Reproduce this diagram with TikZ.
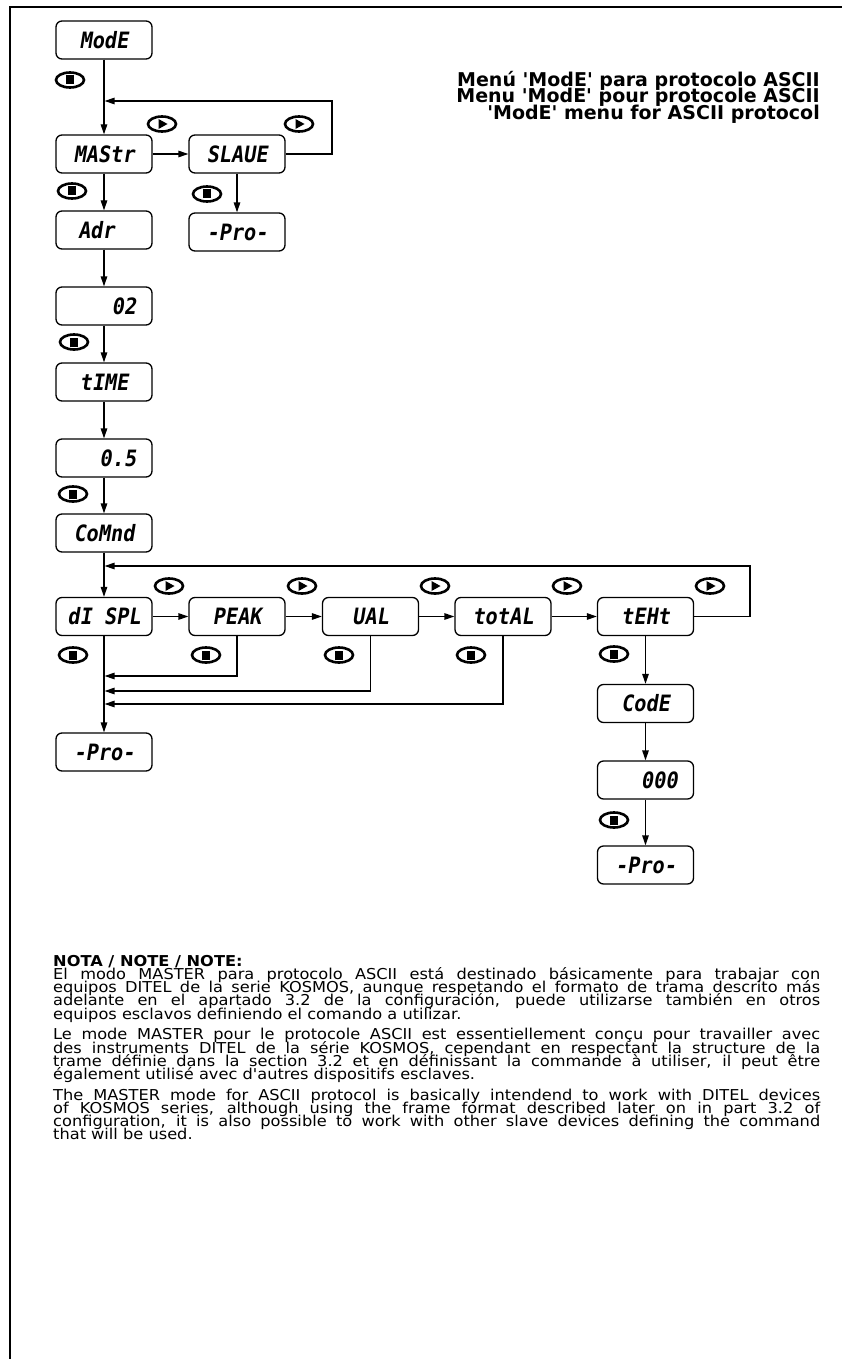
\documentclass[tikz,border=0pt]{standalone}
\usepackage{fontspec}
\setmainfont{DejaVu Sans}[Ligatures=TeXOff]
\newfontfamily\notefont{DejaVu Sans}[FakeStretch=1.08,Ligatures=TeXOff]
\newfontfamily\titlefont{DejaVu Sans}[Ligatures=TeXOff]
\newfontfamily\lcdfont{DejaVu Sans Mono Bold}[FakeStretch=0.9,FakeSlant=0.16]
\usetikzlibrary{shapes.geometric,arrows.meta}
\newcommand\tightls{\lineskiplimit=-50pt\relax\lineskip=0pt\relax}
\newcommand\looseset{\tolerance=10000\relax\hyphenpenalty=10000\relax}
\begin{document}
\begin{tikzpicture}[x=1pt,y=-1pt,
  lcdbox/.style={draw,line width=1.3pt,rounded corners=6pt,minimum width=96pt,minimum height=38pt,inner sep=0pt,font=\lcdfont\fontsize{22.5}{22.5}\selectfont},
  arr/.style={line width=1.3pt,-{Triangle[length=10pt,width=6.5pt]}},
  tojoin/.style={arr,shorten >=0.6pt},
  btn/.style={ellipse,draw,line width=2.6pt,minimum width=28pt,minimum height=15pt,inner sep=0pt},
  stopbtn/.style={btn,path picture={\fill ([xshift=-4pt,yshift=-4.5pt]path picture bounding box.center) rectangle ([xshift=4pt,yshift=4.5pt]path picture bounding box.center);}},
  playbtn/.style={btn,path picture={\fill ([xshift=-3.5pt,yshift=5pt]path picture bounding box.center) -- ([xshift=5.5pt]path picture bounding box.center) -- ([xshift=-3.5pt,yshift=-5pt]path picture bounding box.center) -- cycle;}},
]
\useasboundingbox (0,0) rectangle (842,1359);
% frame
\coordinate (fr1) at (842,7);
\coordinate (fr2) at (10,7);
\coordinate (fr3) at (10,1359);
\draw[line width=2.4pt] (fr1) -- (fr2) -- (fr3);

% boxes
\node[lcdbox] (mode) at (104,40) {ModE};
\node[lcdbox] (mastr) at (104,154) {MAStr};
\node[lcdbox] (slave) at (237,154) {SLAUE};
\node[lcdbox] (adr) at (104,230) {\makebox[52pt][l]{Adr}};
\node[lcdbox] (pro1) at (237,232) {-Pro-};
\node[lcdbox] (v02) at (104,306) {\makebox[64pt][r]{02}};
\node[lcdbox] (time) at (104,382) {tIME};
\node[lcdbox] (v05) at (104,458) {\makebox[64pt][r]{0.5}};
\node[lcdbox] (comnd) at (104,533) {CoMnd};
\node[lcdbox] (displ) at (104,616.5) {dI SPL};
\node[lcdbox] (peak) at (237,616.5) {PEAK};
\node[lcdbox] (ual) at (370.5,616.5) {UAL};
\node[lcdbox] (total) at (503,616.5) {totAL};
\node[lcdbox] (text) at (645.5,616.5) {tEHt};
\node[lcdbox] (code) at (645.5,703.5) {CodE};
\node[lcdbox] (v000) at (645.5,780) {\makebox[64pt][r]{000}};
\node[lcdbox] (pro3) at (645.5,865) {-Pro-};
\node[lcdbox] (pro2) at (104,752) {-Pro-};

% junctions
\coordinate (j1) at (104,101);
\coordinate (c1) at (332,101);
\coordinate (j2) at (104,566);
\coordinate (c2) at (750,566);
\coordinate (j3) at (104,676);
\coordinate (j4) at (104,691);
\coordinate (j5) at (104,704);

% connectors
\draw[arr] (mode.south) -- (mastr.north);
\draw[arr] (mastr.east) -- (slave.west);
\draw[tojoin] (slave.east) -| (c1) -- (j1);
\draw[arr] (mastr.south) -- (adr.north);
\draw[arr] (slave.south) -- (pro1.north);
\draw[arr] (adr.south) -- (v02.north);
\draw[arr] (v02.south) -- (time.north);
\draw[arr] (time.south) -- (v05.north);
\draw[arr] (v05.south) -- (comnd.north);
\draw[arr] (comnd.south) -- (displ.north);
\draw[arr] (displ.east) -- (peak.west);
\draw[arr] (peak.east) -- (ual.west);
\draw[arr] (ual.east) -- (total.west);
\draw[arr] (total.east) -- (text.west);
\draw[tojoin] (text.east) -| (c2) -- (j2);
\draw[tojoin] (peak.south) |- (j3);
\draw[tojoin] (ual.south) |- (j4);
\draw[tojoin] (total.south) |- (j5);
\draw[arr] (displ.south) -- (pro2.north);
\draw[arr] (text.south) -- (code.north);
\draw[arr] (code.south) -- (v000.north);
\draw[arr] (v000.south) -- (pro3.north);

% buttons
\node[stopbtn] (b1) at (70,80) {};
\node[playbtn] (b2) at (162,124) {};
\node[playbtn] (b3) at (299,124) {};
\node[stopbtn] (b4) at (72,191) {};
\node[stopbtn] (b5) at (207,194) {};
\node[stopbtn] (b6) at (74,342) {};
\node[stopbtn] (b7) at (73,494) {};
\node[playbtn] (b8) at (169,586) {};
\node[playbtn] (b9) at (302,586) {};
\node[playbtn] (b10) at (435,586) {};
\node[playbtn] (b11) at (567,586) {};
\node[playbtn] (b12) at (710,586) {};
\node[stopbtn] (b13) at (73,655) {};
\node[stopbtn] (b14) at (206,655) {};
\node[stopbtn] (b15) at (339,655) {};
\node[stopbtn] (b16) at (471,655) {};
\node[stopbtn] (b17) at (614,654) {};
\node[stopbtn] (b18) at (614,820) {};

% title
\node[anchor=north east,inner sep=0pt,align=right,font={\titlefont\bfseries\fontsize{19}{16.5}\selectfont\tightls}] (title) at (820,71)
 {Menú 'ModE' para protocolo ASCII\\Menu 'ModE' pour protocole ASCII\\'ModE' menu for ASCII protocol};

% note
\node[anchor=north west,inner sep=0pt,text width=767pt,align=justify,
      font={\notefont\fontsize{15}{13.2}\selectfont\tightls\looseset}] (note) at (53,955) {%
{\bfseries NOTA / NOTE / NOTE:}\par
El modo MASTER para protocolo ASCII está destinado básicamente para trabajar con\linebreak
equipos DITEL de la serie KOSMOS, aunque respetando el formato de trama descrito más\linebreak
adelante en el apartado 3.2 de la configuración, puede utilizarse también en otros\linebreak
equipos esclavos definiendo el comando a utilizar.\par\vspace{7.5pt}
Le mode MASTER pour le protocole ASCII est essentiellement conçu pour travailler avec\linebreak
des instruments DITEL de la série KOSMOS, cependant en respectant la structure de la\linebreak
trame définie dans la section 3.2 et en définissant la commande à utiliser, il peut être\linebreak
également utilisé avec d'autres dispositifs esclaves.\par\vspace{7.5pt}
The MASTER mode for ASCII protocol is basically intendend to work with DITEL devices\linebreak
of KOSMOS series, although using the frame format described later on in part 3.2 of\linebreak
configuration, it is also possible to work with other slave devices defining the command\linebreak
that will be used.};
\end{tikzpicture}
\end{document}
